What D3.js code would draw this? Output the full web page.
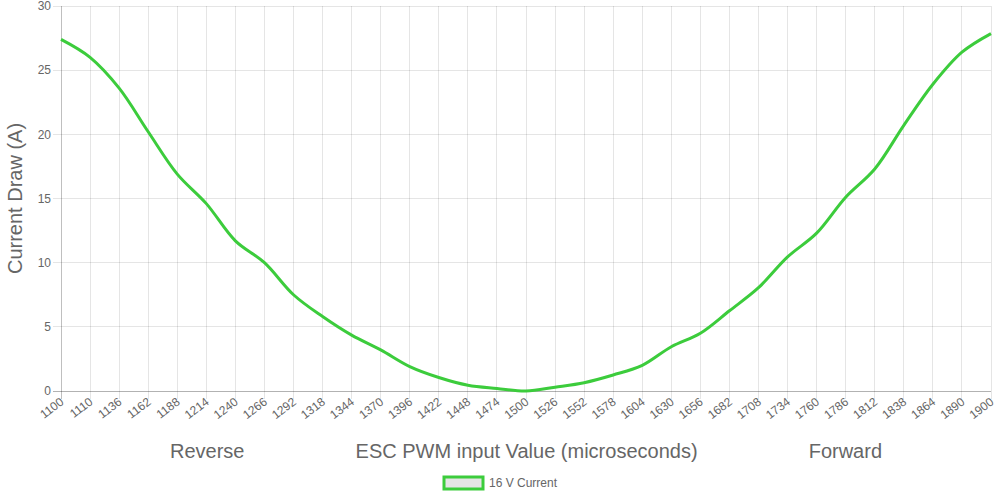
<!DOCTYPE html>
<html>
<head>
<meta charset="utf-8">
<script src="https://cdn.jsdelivr.net/npm/d3@7"></script>
<style>
  html, body { margin: 0; padding: 0; background: #fff; }
  svg { display: block; font-family: "Liberation Sans", Arial, sans-serif; }
</style>
</head>
<body>
<div id="chart"></div>
<script>
// ── data ────────────────────────────────────────────────
const pwm = [1100, 1110, 1136, 1162, 1188, 1214, 1240, 1266, 1292, 1318, 1344,
             1370, 1396, 1422, 1448, 1474, 1500, 1526, 1552, 1578, 1604, 1630,
             1656, 1682, 1708, 1734, 1760, 1786, 1812, 1838, 1864, 1890, 1900];
const current16V = [27.4, 26.0, 23.6, 20.2, 16.9, 14.6, 11.7, 10.0, 7.5, 5.8, 4.35,
                    3.2, 1.9, 1.05, 0.45, 0.2, 0.0, 0.3, 0.65, 1.25, 2.0, 3.45,
                    4.5, 6.25, 8.05, 10.45, 12.3, 15.1, 17.3, 20.7, 23.9, 26.4, 27.85];
const yTicks = [0, 5, 10, 15, 20, 25, 30];
const seriesName = '16 V Current';
const yTitle = 'Current Draw (A)';
const xTitle = 'Reverse' + ' '.repeat(20) + 'ESC PWM input Value (microseconds)' + ' '.repeat(20) + 'Forward';

const GREEN = '#3ccc3c';
const GRID  = 'rgba(0,0,0,0.1)';
const TEXT  = '#666';

// ── layout ──────────────────────────────────────────────
const W = 1000, H = 500;
const m = { top: 6, right: 9, bottom: 109, left: 61 };

const svg = d3.select('#chart').append('svg')
  .attr('width', W).attr('height', H);

const x = d3.scalePoint()
  .domain(pwm)
  .range([m.left, W - m.right]);

const y = d3.scaleLinear()
  .domain([0, 30])
  .range([H - m.bottom, m.top]);

// ── grid ────────────────────────────────────────────────
const grid = svg.append('g');

grid.selectAll('line.v')
  .data(pwm)
  .join('line')
    .attr('class', 'v')
    .attr('x1', d => x(d)).attr('x2', d => x(d))
    .attr('y1', m.top).attr('y2', H - m.bottom + 8)
    .attr('stroke', (d, i) => i === 0 ? 'rgba(0,0,0,0.25)' : GRID)
    .attr('stroke-width', 1)
    .attr('shape-rendering', 'crispEdges');

grid.selectAll('line.h')
  .data(yTicks)
  .join('line')
    .attr('class', 'h')
    .attr('x1', m.left - 8).attr('x2', W - m.right)
    .attr('y1', d => y(d)).attr('y2', d => y(d))
    .attr('stroke', d => d === 0 ? 'rgba(0,0,0,0.3)' : GRID)
    .attr('stroke-width', 1)
    .attr('shape-rendering', 'crispEdges');

// ── y tick labels ───────────────────────────────────────
svg.append('g').selectAll('text')
  .data(yTicks)
  .join('text')
    .attr('x', m.left - 10)
    .attr('y', d => y(d))
    .attr('dy', '0.35em')
    .attr('text-anchor', 'end')
    .attr('font-size', 12)
    .attr('fill', TEXT)
    .text(d => d);

// ── x tick labels (rotated) ─────────────────────────────
svg.append('g').selectAll('text')
  .data(pwm)
  .join('text')
    .attr('transform', d => `translate(${x(d) + 1},${H - m.bottom + 9}) rotate(-37)`)
    .attr('text-anchor', 'end')
    .attr('dy', '0.35em')
    .attr('font-size', 12)
    .attr('fill', TEXT)
    .text(d => d);

// ── axis titles ─────────────────────────────────────────
svg.append('text')
  .attr('transform', `translate(22,${(m.top + H - m.bottom) / 2}) rotate(-90)`)
  .attr('text-anchor', 'middle')
  .attr('font-size', 20)
  .attr('fill', TEXT)
  .text(yTitle);

svg.append('text')
  .attr('x', (m.left + W - m.right) / 2)
  .attr('y', 458)
  .attr('text-anchor', 'middle')
  .attr('font-size', 20)
  .attr('fill', TEXT)
  .style('white-space', 'pre')
  .text(xTitle);

// ── line ────────────────────────────────────────────────
const line = d3.line()
  .x((d, i) => x(pwm[i]))
  .y(d => y(d))
  .curve(d3.curveCatmullRom.alpha(0.5));

svg.append('path')
  .datum(current16V)
  .attr('d', line)
  .attr('fill', 'none')
  .attr('stroke', GREEN)
  .attr('stroke-width', 3)
  .attr('stroke-linejoin', 'round');

// ── legend ──────────────────────────────────────────────
const lg = svg.append('g').attr('transform', 'translate(444,477)');
lg.append('rect')
  .attr('width', 39).attr('height', 12)
  .attr('fill', 'rgba(0,0,0,0.1)')
  .attr('stroke', GREEN)
  .attr('stroke-width', 3);
lg.append('text')
  .attr('x', 45).attr('y', 6)
  .attr('dy', '0.35em')
  .attr('font-size', 12)
  .attr('fill', TEXT)
  .text(seriesName);
</script>
</body>
</html>
